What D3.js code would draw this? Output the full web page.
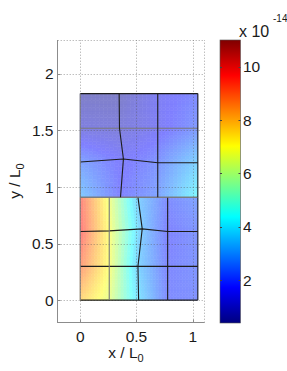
<!DOCTYPE html>
<html>
<head>
<meta charset="utf-8">
<script src="https://cdn.jsdelivr.net/npm/d3@7"></script>
<style>
body { margin: 0; background: #fff; }
text { font-family: "Liberation Sans", Arial, sans-serif; fill: #1a1a1a; }
</style>
</head>
<body>
<div id="chart"></div>
<script>
// mesh nodes of the two blocks, rows from bottom to top
var lowerX = [
  [0, 0.258, 0.519, 0.777, 1.045],
  [0, 0.258, 0.513, 0.777, 1.045],
  [0, 0.258, 0.551, 0.777, 1.045],
  [0, 0.258, 0.513, 0.777, 1.045]];
var lowerY = [
  [0, 0, 0, 0, 0],
  [0.298, 0.298, 0.298, 0.298, 0.298],
  [0.607, 0.612, 0.63, 0.607, 0.607],
  [0.91, 0.91, 0.91, 0.91, 0.91]];
var lowerV = [
  [7.8, 6.6, 3.8, 2.0, 2.1],
  [9.0, 7.0, 3.5, 1.9, 2.2],
  [9.7, 7.0, 3.3, 1.8, 2.2],
  [9.5, 6.8, 3.4, 2.0, 2.5]];

var upperX = [
  [0, 0.358, 0.689, 1.045],
  [0, 0.384, 0.689, 1.045],
  [0, 0.349, 0.689, 1.045],
  [0, 0.346, 0.689, 1.045]];
var upperY = [
  [0.91, 0.91, 0.91, 0.91],
  [1.221, 1.248, 1.215, 1.215],
  [1.52, 1.52, 1.52, 1.52],
  [1.826, 1.826, 1.826, 1.826]];
var upperV = [
  [3.3, 1.8, 2.5, 4.3],
  [2.5, 1.6, 2.2, 3.5],
  [1.1, 1.0, 1.5, 2.3],
  [0.6, 0.6, 1.5, 2.0]];

var xTicks = [0, 0.5, 1];
var yTicks = [0, 0.5, 1, 1.5, 2];
var cTicks = [2, 4, 6, 8, 10];
var xDomain = [-0.2, 1.1], yDomain = [-0.2, 2.3], cDomain = [0.4, 11];

var W = 287, H = 371;
var svg = d3.select("#chart").append("svg")
  .attr("width", W).attr("height", H);

var x = d3.scaleLinear().domain(xDomain).range([57.7, 204]);
var y = d3.scaleLinear().domain(yDomain).range([322.7, 40]);
var c = d3.scaleLinear().domain(cDomain).range([0, 1]).clamp(true);

// matlab jet
function jet(t) {
  function cl(v) { return Math.max(0, Math.min(1, v)); }
  return [cl(Math.min(4 * t - 1.5, -4 * t + 4.5)),
          cl(Math.min(4 * t - 0.5, -4 * t + 3.5)),
          cl(Math.min(4 * t + 0.5, -4 * t + 2.5))];
}
function jetCss(t, a) {
  var j = jet(t);
  return d3.rgb(255 * (1 - a + a * j[0]), 255 * (1 - a + a * j[1]), 255 * (1 - a + a * j[2])).toString();
}

// interpolated (transparent) patches
var field = svg.append("g");
var N = 10;
function drawBlock(X, Y, V) {
  for (var j = 0; j < X.length - 1; j++) {
    for (var i = 0; i < X[0].length - 1; i++) {
      var px = [x(X[j][i]), x(X[j][i + 1]), x(X[j + 1][i + 1]), x(X[j + 1][i])];
      var py = [y(Y[j][i]), y(Y[j][i + 1]), y(Y[j + 1][i + 1]), y(Y[j + 1][i])];
      var pv = [V[j][i], V[j][i + 1], V[j + 1][i + 1], V[j + 1][i]];
      var bil = function (p, u, v) {
        return (1 - u) * (1 - v) * p[0] + u * (1 - v) * p[1] + u * v * p[2] + (1 - u) * v * p[3];
      };
      for (var b = 0; b < N; b++) {
        for (var a = 0; a < N; a++) {
          var u0 = a / N, u1 = (a + 1) / N, v0 = b / N, v1 = (b + 1) / N;
          var pts = [[u0, v0], [u1, v0], [u1, v1], [u0, v1]].map(function (q) {
            return [bil(px, q[0], q[1]), bil(py, q[0], q[1])];
          });
          var col = jetCss(c(bil(pv, (u0 + u1) / 2, (v0 + v1) / 2)), 0.5);
          field.append("path")
            .attr("d", "M" + pts.join("L") + "Z")
            .attr("fill", col)
            .attr("stroke", col)
            .attr("stroke-width", 0.6);
        }
      }
    }
  }
}
drawBlock(lowerX, lowerY, lowerV);
drawBlock(upperX, upperY, upperV);

// grid (dotted) drawn over the patches, faint
var grid = svg.append("g")
  .attr("stroke", "#555").attr("stroke-opacity", 0.55)
  .attr("stroke-dasharray", "1,2").attr("fill", "none");
xTicks.forEach(function (t) {
  grid.append("line").attr("x1", Math.round(x(t)) + 0.5).attr("x2", Math.round(x(t)) + 0.5)
    .attr("y1", y(yDomain[0])).attr("y2", y(yDomain[1]));
});
yTicks.forEach(function (t) {
  grid.append("line").attr("y1", Math.round(y(t)) + 0.5).attr("y2", Math.round(y(t)) + 0.5)
    .attr("x1", x(xDomain[0])).attr("x2", x(xDomain[1]));
});
grid.append("line").attr("x1", x(xDomain[0])).attr("x2", x(xDomain[1]))
  .attr("y1", 40.5).attr("y2", 40.5);
grid.append("line").attr("x1", 204.5).attr("x2", 204.5)
  .attr("y1", y(yDomain[0])).attr("y2", y(yDomain[1]));

// mesh lines
var line = d3.line().x(function (d) { return x(d[0]); }).y(function (d) { return y(d[1]); });
var mesh = svg.append("g").attr("fill", "none").attr("stroke-width", 1.1);
function drawLines(X, Y, grayRows, grayCols) {
  X.forEach(function (row, j) {
    mesh.append("path")
      .attr("d", line(row.map(function (xx, i) { return [xx, Y[j][i]]; })))
      .attr("stroke", grayRows.indexOf(j) >= 0 ? "#7a7a7a" : "#1c1c1c");
  });
  X[0].forEach(function (_, i) {
    mesh.append("path")
      .attr("d", line(X.map(function (row, j) { return [row[i], Y[j][i]]; })))
      .attr("stroke", grayCols.indexOf(i) >= 0 ? "#7a7a7a" : "#1c1c1c");
  });
}
drawLines(lowerX, lowerY, [3], [0, 1]);
drawLines(upperX, upperY, [0, 2], [0]);

// axes
var ax = svg.append("g").attr("stroke", "#8c8c8c").attr("stroke-width", 1);
ax.append("line").attr("x1", 57.5).attr("x2", 57.5).attr("y1", 40).attr("y2", 323);
ax.append("line").attr("x1", 57.5).attr("x2", 204.5).attr("y1", 322.5).attr("y2", 322.5);
xTicks.forEach(function (t) {
  ax.append("line").attr("x1", Math.round(x(t)) + 0.5).attr("x2", Math.round(x(t)) + 0.5)
    .attr("y1", 322.5).attr("y2", 319.5);
});
yTicks.forEach(function (t) {
  ax.append("line").attr("y1", Math.round(y(t)) + 0.5).attr("y2", Math.round(y(t)) + 0.5)
    .attr("x1", 57.5).attr("x2", 60.5);
});

var fs = "15.5px";
svg.append("g").selectAll("text").data(xTicks).enter().append("text")
  .attr("x", function (d) { return x(d); }).attr("y", 342)
  .attr("text-anchor", "middle").attr("font-size", fs)
  .text(function (d) { return d; });
svg.append("g").selectAll("text").data(yTicks).enter().append("text")
  .attr("x", 53.5).attr("y", function (d) { return y(d) + 5.5; })
  .attr("text-anchor", "end").attr("font-size", fs)
  .text(function (d) { return d; });

// axis labels
var xl = svg.append("text").attr("x", 126).attr("y", 358)
  .attr("text-anchor", "middle").attr("font-size", fs);
xl.append("tspan").text("x / L");
xl.append("tspan").attr("font-size", "11px").attr("dy", 4).text("0");

var yl = svg.append("text").attr("transform", "translate(20,181) rotate(-90)")
  .attr("text-anchor", "middle").attr("font-size", fs);
yl.append("tspan").text("y / L");
yl.append("tspan").attr("font-size", "11px").attr("dy", 4).text("0");

// colorbar
var cb = d3.scaleLinear().domain(cDomain).range([323, 40]);
var grad = svg.append("defs").append("linearGradient").attr("id", "jet")
  .attr("x1", 0).attr("x2", 0).attr("y1", 1).attr("y2", 0);
d3.range(0, 1.0001, 1 / 32).forEach(function (t) {
  grad.append("stop").attr("offset", t).attr("stop-color", jetCss(t, 1));
});
svg.append("rect").attr("x", 220).attr("y", 40).attr("width", 20.5).attr("height", 283)
  .attr("fill", "url(#jet)").attr("stroke", "#555").attr("stroke-width", 0.6);
var cbt = svg.append("g").attr("stroke", "#444").attr("stroke-width", 1);
cTicks.forEach(function (t) {
  var yy = Math.round(cb(t)) + 0.5;
  cbt.append("line").attr("x1", 238.5).attr("x2", 240.5).attr("y1", yy).attr("y2", yy);
  cbt.append("line").attr("x1", 220).attr("x2", 222).attr("y1", yy).attr("y2", yy);
});
svg.append("g").selectAll("text").data(cTicks).enter().append("text")
  .attr("x", 243).attr("y", function (d) { return cb(d) + 5.5; })
  .attr("font-size", fs)
  .text(function (d) { return d; });

var ex = svg.append("text").attr("x", 239).attr("y", 36.5).attr("font-size", "16px");
ex.append("tspan").text("x 10");
svg.append("text").attr("x", 273).attr("y", 21.5).attr("font-size", "10px").text("-14");
</script>
</body>
</html>
